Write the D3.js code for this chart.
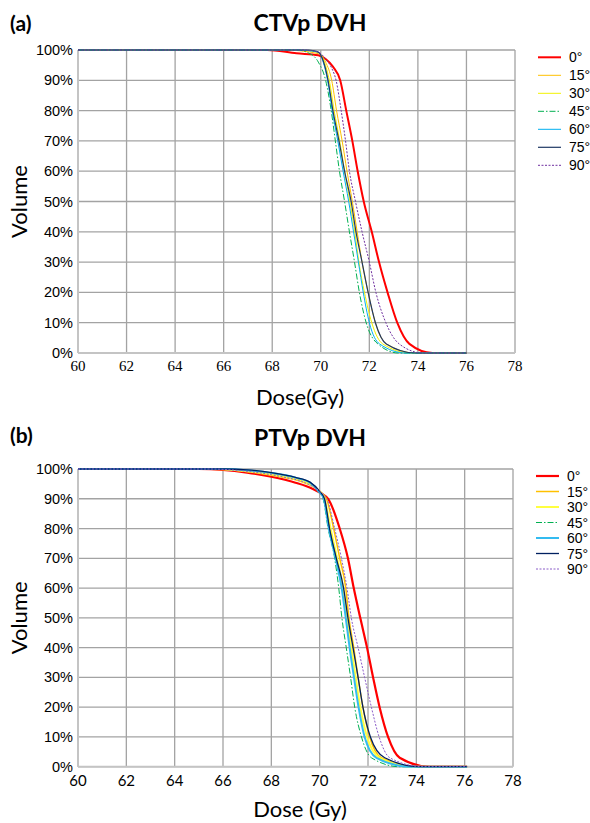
<!DOCTYPE html>
<html>
<head>
<meta charset="utf-8">
<script src="https://cdn.jsdelivr.net/npm/d3@7/dist/d3.min.js"></script>
<style>
  body { margin: 0; background: #fff; }
  svg { display: block; }
</style>
</head>
<body>
<div id="chart"></div>
<script>
// axis ticks
const doseTicks = [60, 62, 64, 66, 68, 70, 72, 74, 76, 78];
const volTicks = [0, 10, 20, 30, 40, 50, 60, 70, 80, 90, 100];
const angles = ['0°', '15°', '30°', '45°', '60°', '75°', '90°'];

// CTVp DVH, [dose Gy, volume %]
const ctv0 = [[60,100],[67.8,100],[69,98.9],[69.9,98.3],[70.2,97],[70.5,94.5],[70.8,90],[71.05,80],[71.3,70],[71.52,60],[71.77,50],[72.1,40],[72.4,30],[72.75,20],[73.15,10],[73.65,3],[74.6,0],[76,0]];
const ctv15 = [[60,100],[68.5,100],[69.9,98.8],[70.2,96],[70.45,90],[70.65,80],[70.88,70],[71.08,60],[71.3,50],[71.5,40],[71.7,30],[71.95,20],[72.25,10],[72.7,3],[73.9,0],[76,0]];
const ctv30 = [[60,100],[69,100],[69.9,99.2],[70.15,96],[70.35,90],[70.55,80],[70.78,70],[70.98,60],[71.2,50],[71.4,40],[71.57,30],[71.8,20],[72.1,10],[72.55,3],[73.7,0],[76,0]];
const ctv45 = [[60,100],[69,100],[69.5,99],[69.9,96],[70.2,90],[70.43,80],[70.6,70],[70.77,60],[70.98,50],[71.18,40],[71.39,30],[71.59,20],[71.87,10],[72.35,3],[73.2,0],[76,0]];
const ctv60 = [[60,100],[69,100],[69.9,99.3],[70.1,96],[70.28,90],[70.47,80],[70.7,70],[70.92,60],[71.15,50],[71.35,40],[71.55,30],[71.75,20],[72,10],[72.42,3],[73.5,0],[76,0]];
const ctv75 = [[60,100],[69.5,100],[69.85,99.5],[70.05,97.5],[70.3,90],[70.5,80],[70.75,70],[70.98,60],[71.25,50],[71.45,40],[71.7,30],[71.95,20],[72.25,10],[72.7,3],[73.9,0],[76,0]];
const ctv90 = [[60,100],[69.2,100],[69.9,99.3],[70.2,97],[70.45,94],[70.63,90],[70.84,80],[71.02,70],[71.18,60],[71.43,50],[71.7,40],[72,30],[72.27,20],[72.68,10],[73.23,3],[74.2,0],[76,0]];

// PTVp DVH
const ptv0 = [[60,100],[65,100],[66,99.7],[67,98.8],[68,97.4],[69,95.4],[69.7,93.4],[70.1,91.6],[70.35,90],[70.83,80],[71.17,70],[71.41,60],[71.68,50],[71.96,40],[72.21,30],[72.48,20],[72.83,10],[73.31,3],[74.55,0],[76.1,0]];
const ptv15 = [[60,100],[65.5,100],[66.5,99.6],[67.5,98.6],[68.5,97.2],[69.4,95.3],[70,92.6],[70.28,90],[70.58,80],[70.83,70],[71.08,60],[71.21,50],[71.41,40],[71.59,30],[71.79,20],[72.07,10],[72.55,3],[74,0],[76.1,0]];
const ptv30 = [[60,100],[65.5,100],[66.5,99.7],[67.5,98.8],[68.5,97.5],[69.4,95.6],[70,92.4],[70.2,90],[70.45,80],[70.72,70],[70.97,60],[71.13,50],[71.31,40],[71.49,30],[71.68,20],[71.96,10],[72.48,3],[73.86,0],[76.1,0]];
const ptv45 = [[60,100],[66,100],[67,99.6],[68,98.6],[69,97],[69.6,95.3],[69.95,92.3],[70.14,90],[70.35,80],[70.62,70],[70.79,60],[70.92,50],[71.1,40],[71.28,30],[71.45,20],[71.73,10],[72.14,3],[73.31,0],[76.1,0]];
const ptv60 = [[60,100],[66,100],[67,99.6],[68,98.7],[69,97.1],[69.6,95.4],[69.97,92.4],[70.17,90],[70.38,80],[70.66,70],[70.91,60],[71.08,50],[71.24,40],[71.42,30],[71.61,20],[71.86,10],[72.35,3],[73.73,0],[76.1,0]];
const ptv75 = [[60,100],[66,100],[67,99.7],[68,98.8],[69,97.2],[69.6,95.6],[70,92.5],[70.2,90],[70.41,80],[70.69,70],[70.99,60],[71.17,50],[71.38,40],[71.59,30],[71.79,20],[72.1,10],[72.69,3],[74.14,0],[76.1,0]];
const ptv90 = [[60,100],[65.5,100],[66.5,99.6],[67.5,98.7],[68.5,97.3],[69.4,95.4],[70,92.5],[70.3,90],[70.62,80],[70.9,70],[71.13,60],[71.31,50],[71.59,40],[71.86,30],[72.14,20],[72.46,10],[72.9,3],[74.28,0],[76.1,0]];

const W = 590, H = 823;
const svg = d3.select('#chart').append('svg')
    .attr('width', W)
    .attr('height', H);

const sans = 'Liberation Sans, Arial, sans-serif';
const cal = 'Lato, Open Sans, sans-serif';

function drawPanel(p) {
    const x = d3.scaleLinear().domain([60, 78]).range([p.left, p.right]);
    const y = d3.scaleLinear().domain([0, 100]).range([p.bottom, p.top]);
    const g = svg.append('g');

    // grid
    g.selectAll('.vg').data(doseTicks).enter().append('line')
        .attr('x1', d => x(d)).attr('x2', d => x(d))
        .attr('y1', p.top).attr('y2', p.bottom)
        .attr('stroke', '#a3a3a3').attr('stroke-width', 1.3);
    g.selectAll('.hg').data(volTicks).enter().append('line')
        .attr('x1', p.left).attr('x2', p.right)
        .attr('y1', d => y(d)).attr('y2', d => y(d))
        .attr('stroke', '#a3a3a3').attr('stroke-width', 1.3);
    // left and bottom axis lines, lighter
    g.append('line').attr('x1', p.left).attr('x2', p.left).attr('y1', p.top).attr('y2', p.bottom)
        .attr('stroke', '#c4c4c4').attr('stroke-width', 2);
    g.append('line').attr('x1', p.left).attr('x2', p.right).attr('y1', p.bottom).attr('y2', p.bottom)
        .attr('stroke', '#c4c4c4').attr('stroke-width', 2);

    // tick labels
    g.selectAll('.yl').data(volTicks).enter().append('text')
        .attr('x', p.left - 5).attr('y', d => y(d))
        .attr('text-anchor', 'end').attr('dominant-baseline', 'central')
        .style('font-family', sans).style('font-size', '14.5px')
        .text(d => d + '%');
    g.selectAll('.xl').data(doseTicks).enter().append('text')
        .attr('x', d => x(d)).attr('y', p.xLabelY)
        .attr('text-anchor', 'middle').attr('dominant-baseline', 'central')
        .style('font-family', p.xFont).style('font-size', p.xFontSize)
        .text(d => d);

    // curves
    const line = d3.line()
        .x(d => x(d[0]))
        .y(d => y(d[1]))
        .curve(d3.curveMonotoneX);
    p.series.forEach((s, i) => {
        const st = p.styles[i];
        g.append('path')
            .attr('d', line(s))
            .attr('fill', 'none')
            .attr('stroke', st.color)
            .attr('stroke-width', st.width)
            .attr('stroke-dasharray', st.dash || null);
    });

    // legend
    const lg = g.append('g');
    angles.forEach((a, i) => {
        const st = p.styles[i];
        const ly = p.legTop + i * p.legStep;
        lg.append('line')
            .attr('x1', p.legX).attr('x2', p.legX + 23)
            .attr('y1', ly).attr('y2', ly)
            .attr('stroke', st.color)
            .attr('stroke-width', st.width)
            .attr('stroke-dasharray', st.dash || null);
        lg.append('text')
            .attr('x', p.legX + 31).attr('y', ly)
            .attr('dominant-baseline', 'central')
            .style('font-family', sans).style('font-size', '14px')
            .text(a);
    });

    // titles
    svg.append('text')
        .attr('x', 10).attr('y', p.tagY)
        .attr('dominant-baseline', 'central')
        .style('font-family', cal).style('font-weight', 'bold').style('font-size', '21px')
        .text(p.tag);
    svg.append('text')
        .attr('x', 310).attr('y', p.titleY)
        .attr('text-anchor', 'middle').attr('dominant-baseline', 'central')
        .style('font-family', cal).style('font-weight', 'bold').style('font-size', '23px')
        .text(p.title);
    svg.append('text')
        .attr('x', 300).attr('y', p.xTitleY)
        .attr('text-anchor', 'middle').attr('dominant-baseline', 'central')
        .style('font-family', cal).style('font-size', '22px')
        .text(p.xTitle);
    svg.append('text')
        .attr('transform', 'translate(' + 27 + ',' + (p.top + p.bottom) / 2 + ')rotate(-90)')
        .attr('text-anchor', 'middle')
        .style('font-family', cal).style('font-size', '22px')
        .text('Volume');
}

drawPanel({
    left: 78, right: 515, top: 50, bottom: 353,
    xLabelY: 366, xFont: 'Liberation Serif, Times New Roman, serif', xFontSize: '15px',
    series: [ctv0, ctv15, ctv30, ctv45, ctv60, ctv75, ctv90],
    styles: [
        {color: '#ff0000', width: 2},
        {color: '#ffc000', width: 1},
        {color: '#f2f200', width: 1},
        {color: '#00b050', width: 1, dash: '6,2,1.5,2'},
        {color: '#00b0f0', width: 1},
        {color: '#1f3864', width: 1.2},
        {color: '#7030a0', width: 1, dash: '2,1.5'}
    ],
    legX: 538, legTop: 57.3, legStep: 18,
    tag: '(a)', tagY: 22, title: 'CTVp DVH', titleY: 22,
    xTitle: 'Dose(Gy)', xTitleY: 396
});

drawPanel({
    left: 78, right: 513, top: 469, bottom: 766.7,
    xLabelY: 780, xFont: cal, xFontSize: '15px',
    series: [ptv0, ptv15, ptv30, ptv45, ptv60, ptv75, ptv90],
    styles: [
        {color: '#ff0000', width: 2.2},
        {color: '#ffc000', width: 1.5},
        {color: '#ffff40', width: 2},
        {color: '#00b050', width: 1, dash: '6,2,1.5,2'},
        {color: '#33bbf0', width: 2},
        {color: '#002060', width: 1.3},
        {color: '#8a5cc8', width: 1, dash: '2,1.5'}
    ],
    legX: 536, legTop: 476, legStep: 15.5,
    tag: '(b)', tagY: 434, title: 'PTVp DVH', titleY: 437,
    xTitle: 'Dose (Gy)', xTitleY: 808
});
</script>
</body>
</html>
